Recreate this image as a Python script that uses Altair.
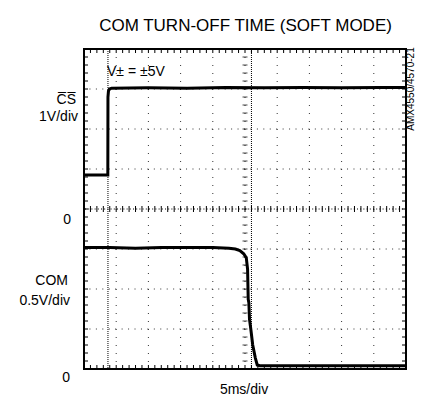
import altair as alt
import pandas as pd
import numpy as np

# ---- data (time in ms, 5 ms/div, 10 divisions) ----
# CS trace: 1 V/div, 0 V on the centre line
cs_time = [0.0, 3.70, 3.72, 3.80, 3.95, 4.30, 10.0, 16.0, 22.0, 28.0, 34.0, 40.0, 46.0, 50.0]
cs_volt = [0.85, 0.85, 2.80, 2.95, 3.00, 3.02, 3.03, 3.02, 3.04, 3.03, 3.04, 3.03, 3.04, 3.04]

# COM trace: 0.5 V/div, 0 V on the bottom line
com_time = [0.0, 4.0, 8.0, 12.0, 16.0, 20.0, 22.5, 23.5, 24.2, 24.8, 25.2, 25.4, 25.5,
            25.6, 25.7, 25.9, 26.2, 26.6, 26.9, 27.3, 35.0, 42.0, 50.0]
com_volt = [1.52, 1.52, 1.51, 1.52, 1.52, 1.52, 1.51, 1.50, 1.48, 1.44, 1.39, 1.25, 0.87,
            0.83, 0.62, 0.50, 0.30, 0.14, 0.05, 0.04, 0.04, 0.04, 0.04]

cursor_time = [3.72, 26.0]
grid_time = [5, 10, 15, 20, 30, 35, 40, 45]
grid_div = [1, 2, 3, 5, 6, 7]
minor_time = list(np.arange(0, 50.01, 1.0))
minor_div = list(np.arange(0, 8.001, 0.2))

FONT = "Liberation Sans"
W, H = 322, 320

xs = alt.Scale(domain=[0, 50], nice=False, zero=False)
ys = alt.Scale(domain=[0, 8], nice=False, zero=False)

def X(f):
    return alt.X(f, type="quantitative", scale=xs, axis=None)

def Y(f, scale=ys):
    return alt.Y(f, type="quantitative", scale=scale, axis=None)

gt = pd.DataFrame({"t": grid_time})
gd = pd.DataFrame({"d": grid_div})
mt = pd.DataFrame({"t": minor_time})
md = pd.DataFrame({"d": minor_div})

vgrid = alt.Chart(gt).mark_rule(color="black", strokeWidth=1, strokeDash=[1, 7], opacity=0.8).encode(x=X("t"))
hgrid = alt.Chart(gd).mark_rule(color="black", strokeWidth=1, strokeDash=[1, 5.44], opacity=0.8).encode(y=Y("d"))

center_h = alt.Chart(pd.DataFrame({"d": [4]})).mark_rule(color="black", strokeWidth=1, strokeDash=[1, 2.2]).encode(y=Y("d"))
center_h_ticks = alt.Chart(mt).mark_rule(color="black", strokeWidth=1).encode(
    x=X("t"), y=alt.value(H / 2 - 3), y2=alt.value(H / 2 + 3))
center_v_ticks = alt.Chart(md).mark_tick(color="black", thickness=1, size=5, orient="horizontal").encode(
    x=alt.XDatum(25, scale=xs, axis=None), y=Y("d"))
center_v = alt.Chart(pd.DataFrame({"t": [25]})).mark_rule(color="black", strokeWidth=1, strokeDash=[1, 7], opacity=0.8).encode(x=X("t"))

top_ticks = alt.Chart(mt).mark_rule(color="black", strokeWidth=1).encode(x=X("t"), y=alt.value(0), y2=alt.value(4))
bot_ticks = alt.Chart(mt).mark_rule(color="black", strokeWidth=1).encode(x=X("t"), y=alt.value(H - 4), y2=alt.value(H))
left_ticks = alt.Chart(md).mark_rule(color="black", strokeWidth=1).encode(y=Y("d"), x=alt.value(0), x2=alt.value(4))
right_ticks = alt.Chart(md).mark_rule(color="black", strokeWidth=1).encode(y=Y("d"), x=alt.value(W - 4), x2=alt.value(W))

cursors = alt.Chart(pd.DataFrame({"t": cursor_time})).mark_rule(
    color="black", strokeWidth=1, strokeDash=[1, 1]).encode(x=X("t"))

cs = alt.Chart(pd.DataFrame({"t": cs_time, "v": cs_volt})).mark_line(
    color="black", strokeWidth=3).encode(
    x=X("t"), y=Y("v", alt.Scale(domain=[-4, 4], nice=False, zero=False)))
com = alt.Chart(pd.DataFrame({"t": com_time, "v": com_volt})).mark_line(
    color="black", strokeWidth=3).encode(
    x=X("t"), y=Y("v", alt.Scale(domain=[0, 4], nice=False, zero=False)))

one = pd.DataFrame({"a": [0]})

def label(text, x, y, size=14, align="left", angle=0, baseline="alphabetic"):
    return alt.Chart(one).mark_text(
        text=text, font=FONT, fontSize=size, align=align, baseline=baseline,
        angle=angle, color="black").encode(x=alt.value(x), y=alt.value(y))

texts = [
    label("COM TURN-OFF TIME (SOFT MODE)", 161.5, -18, size=17, align="center"),
    label("V\u00b1 = \u00b15V", 23, 27, size=14),
    label("C\u0305S\u0305", -8, 55, size=14, align="right"),
    label("1V/div", -6, 72, size=14, align="right"),
    label("0", -13, 175, size=14, align="right"),
    label("COM", -16, 236, size=14, align="right"),
    label("0.5V/div", -14, 256, size=14, align="right"),
    label("0", -14, 333, size=14, align="right"),
    label("5ms/div", 160, 345, size=14, align="center"),
    label("AMX4550/4570-21", 327, 40, size=10, align="center", angle=270, baseline="middle"),
]

chart = alt.layer(
    vgrid, hgrid, center_v, center_h, center_h_ticks, center_v_ticks,
    top_ticks, bot_ticks, left_ticks, right_ticks, cursors, cs, com, *texts
).resolve_scale(y="independent").properties(
    width=W, height=H,
    autosize=alt.AutoSizeParams(type="none"),
    padding={"left": 76, "top": 41, "right": 9, "bottom": 27},
).configure_view(stroke="black", strokeWidth=2)

chart.save("out.html", embed_options={"renderer": "svg", "actions": False})
